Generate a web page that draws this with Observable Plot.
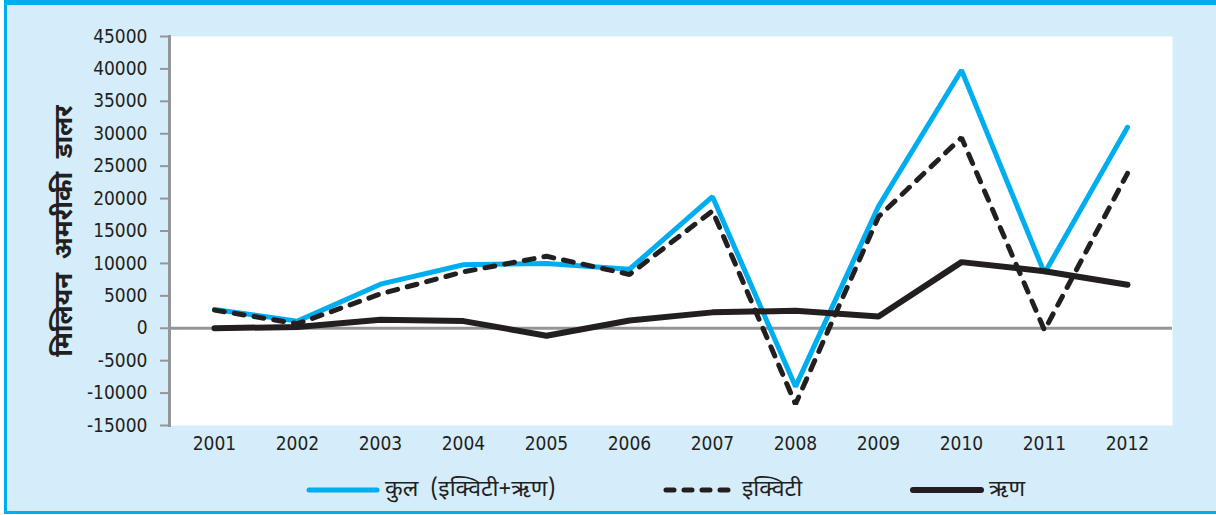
<!DOCTYPE html>
<html>
<head>
<meta charset="utf-8">
<script src="https://cdn.jsdelivr.net/npm/d3@7"></script>
<script src="https://cdn.jsdelivr.net/npm/@observablehq/plot@0.6"></script>
<style>
  html, body { margin: 0; padding: 0; background: #ffffff; }
  #frame {
    position: absolute; left: 4px; top: 0; width: 1212px; height: 514px;
    box-sizing: border-box; background: #D5EDFA;
    border-top: 5px solid #00AEEF; border-left: 3px solid #00AEEF; border-bottom: 3px solid #00AEEF;
  }
  #chart { position: absolute; left: 0; top: 0; }
  #legend {
    position: absolute; top: 476px; left: 0; width: 1216px; height: 28px;
    font-family: "Noto Sans Devanagari", "Lohit Devanagari", "Noto Sans", sans-serif;
    font-size: 23px; color: #231F20;
  }
  .item { position: absolute; top: 0; display: flex; align-items: center; height: 28px; white-space: pre; }
  .item svg { margin-right: 5px; }
</style>
</head>
<body>
<div id="frame"></div>
<div id="chart"></div>
<div id="legend"></div>
<script>
const years = ["2001","2002","2003","2004","2005","2006","2007","2008","2009","2010","2011","2012"];
const totalValues  = [2900, 1100, 6800, 9800, 10000, 9100, 20300, -9000, 18800, 39800, 8500, 31000];
const equityValues = [2800, 700, 5300, 8700, 11100, 8300, 18100, -11700, 17200, 29400, -300, 23900];
const debtValues   = [0, 200, 1300, 1100, -1150, 1200, 2450, 2700, 1800, 10200, 8800, 6700];
const yTicks = [-15000,-10000,-5000,0,5000,10000,15000,20000,25000,30000,35000,40000,45000];
const seriesNames = ["कुल  (इक्विटी+ऋण)", "इक्विटी", "ऋण"];
const yTitle = "मिलियन  अमरीकी  डालर";

const toRows = vals => years.map((y, i) => ({year: y, value: vals[i]}));
const total = toRows(totalValues), equity = toRows(equityValues), debt = toRows(debtValues);

const BLUE = "#00AEEF", INK = "#231F20", GRAY = "#939598";

const chart = Plot.plot({
  width: 1216,
  height: 470,
  marginTop: 36,
  marginBottom: 45,
  marginLeft: 169,
  marginRight: 44,
  style: {background: "transparent", fontFamily: "'DejaVu Sans Condensed', 'Liberation Sans', sans-serif", fontSize: "19px", color: INK},
  x: {type: "point", domain: years, padding: 0.5},
  y: {domain: [-15000, 45000]},
  marks: [
    Plot.frame({fill: "white", stroke: "none"}),
    Plot.ruleY([0], {stroke: GRAY, strokeWidth: 3}),
    Plot.frame({anchor: "left", stroke: GRAY, strokeWidth: 3}),
    Plot.axisY({ticks: yTicks, tickSize: 9, tickPadding: 13, stroke: GRAY, strokeWidth: 2, tickFormat: d => String(d), label: null, fontSize: 19}),
    Plot.axisX({tickSize: 0, tickPadding: 11, label: null, fontSize: 19}),
    Plot.text([yTitle], {frameAnchor: "left", dx: -106, rotate: -90, textAnchor: "middle", fontSize: 26, fontWeight: "bold", fill: INK,
      fontFamily: "'Noto Sans Devanagari', 'Lohit Devanagari', 'Noto Sans', sans-serif"}),
    Plot.line(total, {x: "year", y: "value", stroke: BLUE, strokeWidth: 5, strokeLinejoin: "miter", strokeLinecap: "round"}),
    Plot.line(debt, {x: "year", y: "value", stroke: INK, strokeWidth: 6, strokeLinejoin: "miter", strokeLinecap: "round"}),
    Plot.line(equity, {x: "year", y: "value", stroke: INK, strokeWidth: 5, strokeDasharray: "10,10", strokeLinejoin: "miter", strokeLinecap: "round"})
  ]
});
document.getElementById("chart").appendChild(chart);

// legend
const legend = document.getElementById("legend");
const items = [
  {name: seriesNames[0], left: 306, color: BLUE, dash: null, w: 5},
  {name: seriesNames[1], left: 663, color: INK, dash: "8,10", w: 5},
  {name: seriesNames[2], left: 910, color: INK, dash: null, w: 6}
];
for (const it of items) {
  const div = document.createElement("div");
  div.className = "item";
  div.style.left = it.left + "px";
  div.innerHTML = `<svg width="74" height="12"><line x1="3" x2="71" y1="6" y2="6" stroke="${it.color}" stroke-width="${it.w}" stroke-linecap="round" ${it.dash ? `stroke-dasharray="${it.dash}"` : ""}/></svg><span>${it.name}</span>`;
  legend.appendChild(div);
}
</script>
</body>
</html>
